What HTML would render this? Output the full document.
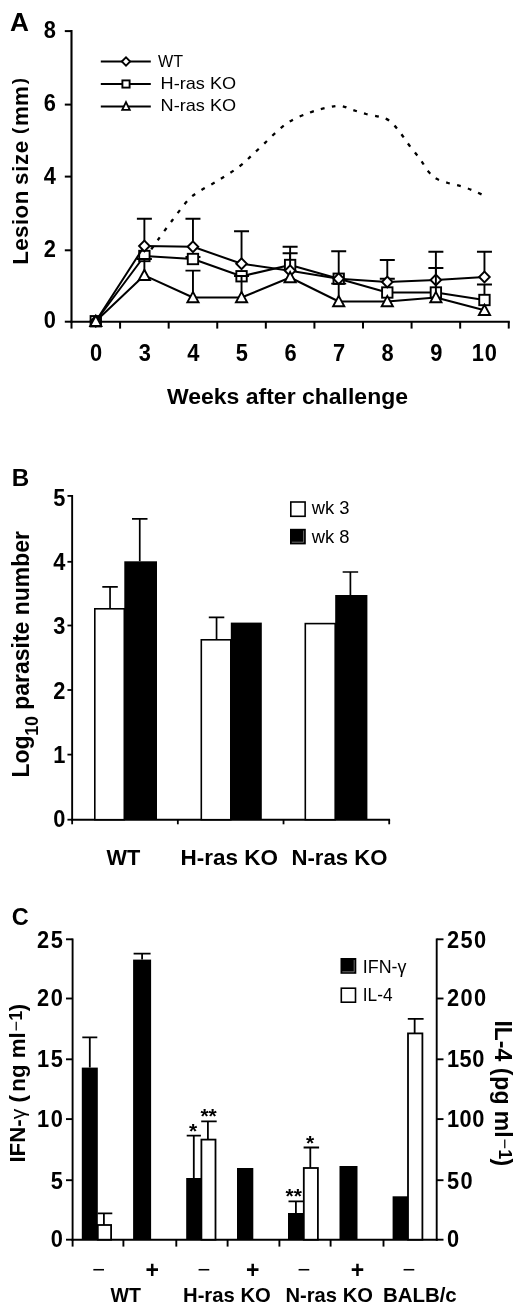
<!DOCTYPE html>
<html lang="en">
<head>
<meta charset="utf-8">
<title>Figure: lesion size, parasite number and cytokine production</title>
<style>
html,body{margin:0;padding:0;background:#fff;}
body{width:520px;height:1313px;overflow:hidden;}
svg{display:block;}
svg text{font-family:"Liberation Sans",sans-serif;fill:#000;stroke:none;}
</style>
</head>
<body>
<svg width="520" height="1313" viewBox="0 0 520 1313" stroke="#000" stroke-linecap="butt" shape-rendering="auto">
<rect x="0" y="0" width="520" height="1313" fill="#fff" stroke="none"/>
<g id="panelA">
<text transform="translate(10.0 31.0) scale(1.05 1)" font-size="25" font-weight="bold">A</text>
<line x1="71.5" y1="30.1" x2="71.5" y2="322.7" stroke-width="2.1"/>
<line x1="70.5" y1="321.7" x2="509.8" y2="321.7" stroke-width="2.1"/>
<line x1="64.8" y1="321.7" x2="71.5" y2="321.7" stroke-width="2.0"/>
<text transform="translate(56.0 328.1) scale(0.93 1)" font-size="23.5" font-weight="bold" text-anchor="end">0</text>
<line x1="64.8" y1="250.3" x2="71.5" y2="250.3" stroke-width="2.0"/>
<text transform="translate(56.0 256.9) scale(0.93 1)" font-size="23.5" font-weight="bold" text-anchor="end">2</text>
<line x1="64.8" y1="176.6" x2="71.5" y2="176.6" stroke-width="2.0"/>
<text transform="translate(56.0 183.7) scale(0.93 1)" font-size="23.5" font-weight="bold" text-anchor="end">4</text>
<line x1="64.8" y1="104.6" x2="71.5" y2="104.6" stroke-width="2.0"/>
<text transform="translate(56.0 111.4) scale(0.93 1)" font-size="23.5" font-weight="bold" text-anchor="end">6</text>
<line x1="64.8" y1="31.1" x2="71.5" y2="31.1" stroke-width="2.0"/>
<text transform="translate(56.0 38.0) scale(0.93 1)" font-size="23.5" font-weight="bold" text-anchor="end">8</text>
<line x1="71.5" y1="321.7" x2="71.5" y2="328.59999999999997" stroke-width="2.0"/>
<line x1="120.08" y1="321.7" x2="120.08" y2="328.59999999999997" stroke-width="2.0"/>
<line x1="168.67" y1="321.7" x2="168.67" y2="328.59999999999997" stroke-width="2.0"/>
<line x1="217.25" y1="321.7" x2="217.25" y2="328.59999999999997" stroke-width="2.0"/>
<line x1="265.83" y1="321.7" x2="265.83" y2="328.59999999999997" stroke-width="2.0"/>
<line x1="314.42" y1="321.7" x2="314.42" y2="328.59999999999997" stroke-width="2.0"/>
<line x1="363.0" y1="321.7" x2="363.0" y2="328.59999999999997" stroke-width="2.0"/>
<line x1="411.58" y1="321.7" x2="411.58" y2="328.59999999999997" stroke-width="2.0"/>
<line x1="460.17" y1="321.7" x2="460.17" y2="328.59999999999997" stroke-width="2.0"/>
<line x1="508.75" y1="321.7" x2="508.75" y2="328.59999999999997" stroke-width="2.0"/>
<text transform="translate(96.19 360.6) scale(0.93 1)" font-size="23.5" font-weight="bold" text-anchor="middle">0</text>
<text transform="translate(144.78 360.6) scale(0.93 1)" font-size="23.5" font-weight="bold" text-anchor="middle">3</text>
<text transform="translate(193.36 360.6) scale(0.93 1)" font-size="23.5" font-weight="bold" text-anchor="middle">4</text>
<text transform="translate(241.94 360.6) scale(0.93 1)" font-size="23.5" font-weight="bold" text-anchor="middle">5</text>
<text transform="translate(290.52 360.6) scale(0.93 1)" font-size="23.5" font-weight="bold" text-anchor="middle">6</text>
<text transform="translate(339.11 360.6) scale(0.93 1)" font-size="23.5" font-weight="bold" text-anchor="middle">7</text>
<text transform="translate(387.69 360.6) scale(0.93 1)" font-size="23.5" font-weight="bold" text-anchor="middle">8</text>
<text transform="translate(436.27 360.6) scale(0.93 1)" font-size="23.5" font-weight="bold" text-anchor="middle">9</text>
<text transform="translate(484.66 360.6) scale(0.93 1)" font-size="23.5" font-weight="bold" text-anchor="middle" letter-spacing="0.9">10</text>
<text transform="translate(27.8 265.0) rotate(-90)" font-size="22.3" font-weight="bold"><tspan x="0.2" letter-spacing="0.45">Lesion</tspan><tspan x="80.1" letter-spacing="0.65">size</tspan><tspan x="131.0" font-size="19" dy="-2.6" letter-spacing="0">(</tspan><tspan dy="2.6" font-size="1"> </tspan><tspan x="139.0" letter-spacing="0.1">mm</tspan><tspan x="180.7" font-size="19" dy="-2.6" letter-spacing="0">)</tspan><tspan dy="2.6" font-size="1"> </tspan></text>
<text x="167" y="404.4" font-size="22.5" font-weight="bold" textLength="241" lengthAdjust="spacingAndGlyphs">Weeks after challenge</text>
<line x1="100.8" y1="61.5" x2="150.8" y2="61.5" stroke-width="2"/>
<line x1="100.8" y1="84" x2="150.8" y2="84" stroke-width="2"/>
<line x1="100.8" y1="106.5" x2="150.8" y2="106.5" stroke-width="2"/>
<path d="M121.8 61.5L126 57.3L130.2 61.5L126 65.7Z" fill="#fff" stroke-width="1.8"/>
<rect x="122.4" y="80.4" width="7.2" height="7.2" fill="#fff" stroke-width="1.9"/>
<path d="M126 102.1L129.8 109.9H122.2Z" fill="#fff" stroke-width="1.8"/>
<text x="158" y="67.4" font-size="17" textLength="25" lengthAdjust="spacingAndGlyphs">WT</text>
<text x="160.6" y="89.3" font-size="17" textLength="75.5" lengthAdjust="spacingAndGlyphs">H-ras KO</text>
<text x="160.6" y="111.4" font-size="17" textLength="75.5" lengthAdjust="spacingAndGlyphs">N-ras KO</text>
<path d="M148.5 253.5C150.0 251.3 153.5 246.1 157.5 240.5C161.5 234.9 167.5 226.6 172.5 220C177.5 213.4 183.3 205.4 187.5 200.8C191.7 196.2 192.3 196.0 197.5 192.5C202.7 189.0 211.7 184.4 218.8 180C225.9 175.6 233.6 171.0 240 166C246.4 161.0 249.8 157.0 257.5 150C265.2 143.0 277.2 130.2 286 124C294.8 117.8 303.0 115.2 310 112.5C317.0 109.8 322.8 108.6 328 107.5C333.2 106.4 336.8 105.6 341 106C345.2 106.4 348.8 108.7 353 110C357.2 111.3 361.5 112.8 366 114C370.5 115.2 376.2 115.9 380 117C383.8 118.1 385.8 118.2 389 120.5C392.2 122.8 395.7 126.9 399 131C402.3 135.1 405.5 140.3 409 145C412.5 149.7 416.8 154.7 420 159C423.2 163.3 425.5 167.8 428 171C430.5 174.2 431.7 176.0 435 178C438.3 180.0 443.5 181.6 448 183C452.5 184.4 457.7 185.2 462 186.5C466.3 187.8 470.3 189.5 474 191C477.7 192.5 482.3 194.8 484 195.5" fill="none" stroke-width="2.3" stroke-dasharray="3.8 7.4" stroke-dashoffset="-5"/>
<path d="M95.79 321.25L144.38 256L192.96 259L241.54 276.25L290.12 265L338.71 278.75L387.29 292.5L435.88 292.5L484.46 300" fill="none" stroke-width="2" stroke-linejoin="round"/>
<path d="M192.96 259V257M185.46 257H200.46" stroke-width="1.9" fill="none"/>
<path d="M290.12 265V253.25M282.62 253.25H297.62" stroke-width="1.9" fill="none"/>
<path d="M387.29 292.5V278.75M379.79 278.75H394.79" stroke-width="1.9" fill="none"/>
<path d="M484.46 300V284.5M476.96 284.5H491.96" stroke-width="1.9" fill="none"/>
<rect x="90.59" y="316.05" width="10.4" height="10.4" fill="#fff" stroke-width="1.9"/>
<rect x="139.18" y="250.8" width="10.4" height="10.4" fill="#fff" stroke-width="1.9"/>
<rect x="187.76000000000002" y="253.8" width="10.4" height="10.4" fill="#fff" stroke-width="1.9"/>
<rect x="236.34" y="271.05" width="10.4" height="10.4" fill="#fff" stroke-width="1.9"/>
<rect x="284.92" y="259.8" width="10.4" height="10.4" fill="#fff" stroke-width="1.9"/>
<rect x="333.51" y="273.55" width="10.4" height="10.4" fill="#fff" stroke-width="1.9"/>
<rect x="382.09000000000003" y="287.3" width="10.4" height="10.4" fill="#fff" stroke-width="1.9"/>
<rect x="430.68" y="287.3" width="10.4" height="10.4" fill="#fff" stroke-width="1.9"/>
<rect x="479.26" y="294.8" width="10.4" height="10.4" fill="#fff" stroke-width="1.9"/>
<path d="M95.79 321.25L144.38 246L192.96 246.75L241.54 263.75L290.12 270.75L338.71 278.75L387.29 282L435.88 280L484.46 277" fill="none" stroke-width="2" stroke-linejoin="round"/>
<path d="M144.38 246V218.75M136.88 218.75H151.88" stroke-width="1.9" fill="none"/>
<path d="M192.96 246.75V218.75M185.46 218.75H200.46" stroke-width="1.9" fill="none"/>
<path d="M241.54 263.75V231.25M234.04 231.25H249.04" stroke-width="1.9" fill="none"/>
<path d="M290.12 270.75V246.75M282.62 246.75H297.62" stroke-width="1.9" fill="none"/>
<path d="M338.71 278.75V251.25M331.21 251.25H346.21" stroke-width="1.9" fill="none"/>
<path d="M387.29 282V260M379.79 260H394.79" stroke-width="1.9" fill="none"/>
<path d="M435.88 280V251.75M428.38 251.75H443.38" stroke-width="1.9" fill="none"/>
<path d="M484.46 277V251.75M476.96 251.75H491.96" stroke-width="1.9" fill="none"/>
<path d="M90.49000000000001 321.25L95.79 315.95L101.09 321.25L95.79 326.55Z" fill="#fff" stroke-width="1.9"/>
<path d="M139.07999999999998 246L144.38 240.7L149.68 246L144.38 251.3Z" fill="#fff" stroke-width="1.9"/>
<path d="M187.66 246.75L192.96 241.45L198.26000000000002 246.75L192.96 252.05Z" fill="#fff" stroke-width="1.9"/>
<path d="M236.23999999999998 263.75L241.54 258.45L246.84 263.75L241.54 269.05Z" fill="#fff" stroke-width="1.9"/>
<path d="M284.82 270.75L290.12 265.45L295.42 270.75L290.12 276.05Z" fill="#fff" stroke-width="1.9"/>
<path d="M333.40999999999997 278.75L338.71 273.45L344.01 278.75L338.71 284.05Z" fill="#fff" stroke-width="1.9"/>
<path d="M381.99 282L387.29 276.7L392.59000000000003 282L387.29 287.3Z" fill="#fff" stroke-width="1.9"/>
<path d="M430.58 280L435.88 274.7L441.18 280L435.88 285.3Z" fill="#fff" stroke-width="1.9"/>
<path d="M479.15999999999997 277L484.46 271.7L489.76 277L484.46 282.3Z" fill="#fff" stroke-width="1.9"/>
<path d="M95.79 321.25L144.38 275.3L192.96 297.5L241.54 297.5L290.12 277.5L338.71 301.5L387.29 301.5L435.88 297.5L484.46 310.3" fill="none" stroke-width="2" stroke-linejoin="round"/>
<path d="M144.38 275.3V259M136.88 259H151.88" stroke-width="1.9" fill="none"/>
<path d="M192.96 297.5V270.6M185.46 270.6H200.46" stroke-width="1.9" fill="none"/>
<path d="M241.54 297.5V276M234.04 276H249.04" stroke-width="1.9" fill="none"/>
<path d="M338.71 301.5V283.6M331.21 283.6H346.21" stroke-width="1.9" fill="none"/>
<path d="M435.88 297.5V268M428.38 268H443.38" stroke-width="1.9" fill="none"/>
<path d="M95.79 315.65L101.39 325.95H90.19000000000001Z" fill="#fff" stroke-width="1.9"/>
<path d="M144.38 269.7L149.98 280.0H138.78Z" fill="#fff" stroke-width="1.9"/>
<path d="M192.96 291.9L198.56 302.2H187.36Z" fill="#fff" stroke-width="1.9"/>
<path d="M241.54 291.9L247.14 302.2H235.94Z" fill="#fff" stroke-width="1.9"/>
<path d="M290.12 271.9L295.72 282.2H284.52Z" fill="#fff" stroke-width="1.9"/>
<path d="M338.71 295.9L344.31 306.2H333.10999999999996Z" fill="#fff" stroke-width="1.9"/>
<path d="M387.29 295.9L392.89000000000004 306.2H381.69Z" fill="#fff" stroke-width="1.9"/>
<path d="M435.88 291.9L441.48 302.2H430.28Z" fill="#fff" stroke-width="1.9"/>
<path d="M484.46 304.7L490.06 315.0H478.85999999999996Z" fill="#fff" stroke-width="1.9"/>
</g>
<g id="panelB">
<text transform="translate(11.8 486.0) scale(1.03 1)" font-size="23.5" font-weight="bold">B</text>
<line x1="72.15" y1="495.0" x2="72.15" y2="820.6" stroke-width="1.9"/>
<line x1="71.25" y1="819.7" x2="390.1" y2="819.7" stroke-width="1.9"/>
<line x1="67.45" y1="819.7" x2="72.15" y2="819.7" stroke-width="1.8"/>
<text transform="translate(65.3 827.2) scale(0.94 1)" font-size="23.2" font-weight="bold" text-anchor="end">0</text>
<line x1="67.45" y1="754.6" x2="72.15" y2="754.6" stroke-width="1.8"/>
<text transform="translate(65.3 762.92) scale(0.94 1)" font-size="23.2" font-weight="bold" text-anchor="end">1</text>
<line x1="67.45" y1="690.0" x2="72.15" y2="690.0" stroke-width="1.8"/>
<text transform="translate(65.3 698.64) scale(0.94 1)" font-size="23.2" font-weight="bold" text-anchor="end">2</text>
<line x1="67.45" y1="625.5" x2="72.15" y2="625.5" stroke-width="1.8"/>
<text transform="translate(65.3 634.36) scale(0.94 1)" font-size="23.2" font-weight="bold" text-anchor="end">3</text>
<line x1="67.45" y1="561.8" x2="72.15" y2="561.8" stroke-width="1.8"/>
<text transform="translate(65.3 570.08) scale(0.94 1)" font-size="23.2" font-weight="bold" text-anchor="end">4</text>
<line x1="67.45" y1="495.9" x2="72.15" y2="495.9" stroke-width="1.8"/>
<text transform="translate(65.3 505.8) scale(0.94 1)" font-size="23.2" font-weight="bold" text-anchor="end">5</text>
<line x1="72.15" y1="819.7" x2="72.15" y2="824.3000000000001" stroke-width="1.8"/>
<line x1="177.83" y1="819.7" x2="177.83" y2="824.3000000000001" stroke-width="1.8"/>
<line x1="283.52" y1="819.7" x2="283.52" y2="824.3000000000001" stroke-width="1.8"/>
<line x1="389.2" y1="819.7" x2="389.2" y2="824.3000000000001" stroke-width="1.8"/>
<path d="M110.05 608.8V586.8M102.3 586.8H117.8" stroke-width="1.7" fill="none"/>
<path d="M139.75 561.3V518.8M132.0 518.8H147.5" stroke-width="1.7" fill="none"/>
<rect x="94.8" y="608.8" width="29.5" height="210.9" fill="#fff" stroke-width="1.6"/>
<rect x="124.3" y="561.3" width="32.7" height="258.4" fill="#000" stroke="none"/>
<path d="M216.55 639.8V617.4M208.8 617.4H224.3" stroke-width="1.7" fill="none"/>
<rect x="201.3" y="639.8" width="29.5" height="179.9" fill="#fff" stroke-width="1.6"/>
<rect x="230.8" y="622.6" width="31.0" height="197.1" fill="#000" stroke="none"/>
<path d="M350.4 595.0V572.0M342.65 572.0H358.15" stroke-width="1.7" fill="none"/>
<rect x="305.3" y="623.6" width="29.9" height="196.1" fill="#fff" stroke-width="1.6"/>
<rect x="335.2" y="595.0" width="32.2" height="224.7" fill="#000" stroke="none"/>
<text x="106.4" y="865.4" font-size="22" font-weight="bold" textLength="33.8" lengthAdjust="spacingAndGlyphs">WT</text>
<text x="180.4" y="865.4" font-size="22" font-weight="bold" textLength="97.5" lengthAdjust="spacingAndGlyphs">H-ras KO</text>
<text x="291.4" y="865.4" font-size="22" font-weight="bold" textLength="96.0" lengthAdjust="spacingAndGlyphs">N-ras KO</text>
<rect x="290.8" y="502" width="14.3" height="14.3" fill="#fff" stroke-width="1.6"/>
<rect x="290" y="528.8" width="15.8" height="15.6" fill="#000" stroke="none"/>
<path d="M291.8 542.2H303.6V530.6" fill="none" stroke="#999" stroke-width="0.7"/>
<text x="311.8" y="513.8" font-size="17.5" textLength="37.8" lengthAdjust="spacingAndGlyphs">wk 3</text>
<text x="311.8" y="542.6" font-size="17.5" textLength="37.8" lengthAdjust="spacingAndGlyphs">wk 8</text>
<text transform="translate(28.6 777.5) rotate(-90) scale(0.957 1)" font-size="24" font-weight="bold">Log<tspan font-size="18.6" dy="9" dx="-0.4">10</tspan><tspan dy="-9"> parasite number</tspan></text>
</g>
<g id="panelC">
<text transform="translate(11.8 925.2) scale(1.0 1)" font-size="23.5" font-weight="bold">C</text>
<line x1="72.6" y1="938.4499999999999" x2="72.6" y2="1240.65" stroke-width="1.9"/>
<line x1="436.7" y1="938.4499999999999" x2="436.7" y2="1240.65" stroke-width="1.9"/>
<line x1="71.64999999999999" y1="1239.7" x2="437.65" y2="1239.7" stroke-width="1.9"/>
<line x1="66.0" y1="1239.7" x2="72.6" y2="1239.7" stroke-width="1.9"/>
<line x1="436.7" y1="1239.7" x2="443.5" y2="1239.7" stroke-width="1.9"/>
<text transform="translate(62.8 1246.8) scale(0.94 1)" font-size="23.2" font-weight="bold" text-anchor="end">0</text>
<text transform="translate(446.9 1246.8) scale(0.94 1)" font-size="23.2" font-weight="bold">0</text>
<line x1="66.0" y1="1180.2" x2="72.6" y2="1180.2" stroke-width="1.9"/>
<line x1="436.7" y1="1180.2" x2="443.5" y2="1180.2" stroke-width="1.9"/>
<text transform="translate(62.8 1189.0) scale(0.94 1)" font-size="23.2" font-weight="bold" text-anchor="end">5</text>
<text transform="translate(446.9 1189.0) scale(0.94 1)" font-size="23.2" font-weight="bold" letter-spacing="1.5">50</text>
<line x1="66.0" y1="1119.1" x2="72.6" y2="1119.1" stroke-width="1.9"/>
<line x1="436.7" y1="1119.1" x2="443.5" y2="1119.1" stroke-width="1.9"/>
<text transform="translate(64.3 1126.7) scale(0.94 1)" font-size="23.2" font-weight="bold" text-anchor="end" letter-spacing="1.6">10</text>
<text transform="translate(446.9 1126.7) scale(0.94 1)" font-size="23.2" font-weight="bold" letter-spacing="0.6">100</text>
<line x1="66.0" y1="1059.3" x2="72.6" y2="1059.3" stroke-width="1.9"/>
<line x1="436.7" y1="1059.3" x2="443.5" y2="1059.3" stroke-width="1.9"/>
<text transform="translate(64.3 1066.6) scale(0.94 1)" font-size="23.2" font-weight="bold" text-anchor="end" letter-spacing="1.6">15</text>
<text transform="translate(446.9 1066.6) scale(0.94 1)" font-size="23.2" font-weight="bold" letter-spacing="0.6">150</text>
<line x1="66.0" y1="998.5" x2="72.6" y2="998.5" stroke-width="1.9"/>
<line x1="436.7" y1="998.5" x2="443.5" y2="998.5" stroke-width="1.9"/>
<text transform="translate(64.3 1006.3) scale(0.94 1)" font-size="23.2" font-weight="bold" text-anchor="end" letter-spacing="1.6">20</text>
<text transform="translate(446.9 1006.3) scale(0.94 1)" font-size="23.2" font-weight="bold" letter-spacing="1.5">200</text>
<line x1="66.0" y1="939.3" x2="72.6" y2="939.3" stroke-width="1.9"/>
<line x1="436.7" y1="939.3" x2="443.5" y2="939.3" stroke-width="1.9"/>
<text transform="translate(64.3 947.5) scale(0.94 1)" font-size="23.2" font-weight="bold" text-anchor="end" letter-spacing="1.6">25</text>
<text transform="translate(446.9 947.5) scale(0.94 1)" font-size="23.2" font-weight="bold" letter-spacing="1.5">250</text>
<line x1="123.4" y1="1239.7" x2="123.4" y2="1246.6000000000001" stroke-width="1.9"/>
<line x1="176.3" y1="1239.7" x2="176.3" y2="1246.6000000000001" stroke-width="1.9"/>
<line x1="227.6" y1="1239.7" x2="227.6" y2="1246.6000000000001" stroke-width="1.9"/>
<line x1="279.4" y1="1239.7" x2="279.4" y2="1246.6000000000001" stroke-width="1.9"/>
<line x1="330.6" y1="1239.7" x2="330.6" y2="1246.6000000000001" stroke-width="1.9"/>
<line x1="383.5" y1="1239.7" x2="383.5" y2="1246.6000000000001" stroke-width="1.9"/>
<line x1="72.6" y1="1239.7" x2="72.6" y2="1246.6000000000001" stroke-width="1.9"/>
<path d="M89.8 1067.6V1037.4M82.3 1037.4H97.3" stroke-width="1.8" fill="none"/>
<rect x="81.8" y="1067.6" width="16.0" height="172.1" fill="#000" stroke="none"/>
<path d="M103.9 1225.0V1213.3M97.6 1213.3H112.3" stroke-width="1.8" fill="none"/>
<rect x="97.8" y="1225.0" width="13.3" height="14.7" fill="#fff" stroke-width="1.8"/>
<path d="M142.1 959.6V953.6M133.6 953.6H150.6" stroke-width="1.8" fill="none"/>
<rect x="133.1" y="959.6" width="18.0" height="280.1" fill="#000" stroke="none"/>
<path d="M193.8 1178.0V1135.6M186.70000000000002 1135.6H200.9" stroke-width="1.8" fill="none"/>
<rect x="186.2" y="1178.0" width="15.2" height="61.7" fill="#000" stroke="none"/>
<path d="M207.9 1139.6V1121.3M201.20000000000002 1121.3H216.70000000000002" stroke-width="1.8" fill="none"/>
<rect x="201.4" y="1139.6" width="14.1" height="100.1" fill="#fff" stroke-width="1.8"/>
<rect x="237.0" y="1168.0" width="16.3" height="71.7" fill="#000" stroke="none"/>
<path d="M295.9 1213.0V1201.3M288.5 1201.3H303.29999999999995" stroke-width="1.8" fill="none"/>
<rect x="288.0" y="1213.0" width="15.8" height="26.7" fill="#000" stroke="none"/>
<path d="M310.3 1168.0V1147.5M303.6 1147.5H319.1" stroke-width="1.8" fill="none"/>
<rect x="303.8" y="1168.0" width="14.1" height="71.7" fill="#fff" stroke-width="1.8"/>
<rect x="339.5" y="1166.0" width="18.0" height="73.7" fill="#000" stroke="none"/>
<rect x="392.6" y="1196.3" width="15.4" height="43.4" fill="#000" stroke="none"/>
<path d="M414.65 1033.4V1018.8M407.8 1018.8H423.6" stroke-width="1.8" fill="none"/>
<rect x="408.0" y="1033.4" width="14.4" height="206.3" fill="#fff" stroke-width="1.8"/>
<text x="193.0" y="1137.6" font-size="21" font-weight="bold" text-anchor="middle">*</text>
<text x="208.6" y="1122.6" font-size="21" font-weight="bold" text-anchor="middle">**</text>
<text x="293.8" y="1202.6" font-size="21" font-weight="bold" text-anchor="middle">**</text>
<text x="310.0" y="1149.8" font-size="21" font-weight="bold" text-anchor="middle">*</text>
<text x="98.8" y="1276.7" font-size="22" text-anchor="middle">−</text>
<text x="204.0" y="1276.7" font-size="22" text-anchor="middle">−</text>
<text x="304.0" y="1276.7" font-size="22" text-anchor="middle">−</text>
<text x="408.9" y="1276.7" font-size="22" text-anchor="middle">−</text>
<text x="152.2" y="1277.6" font-size="23" font-weight="bold" text-anchor="middle">+</text>
<text x="252.8" y="1277.6" font-size="23" font-weight="bold" text-anchor="middle">+</text>
<text x="357.5" y="1277.6" font-size="23" font-weight="bold" text-anchor="middle">+</text>
<text x="110.6" y="1301.8" font-size="20.5" font-weight="bold" textLength="30.4" lengthAdjust="spacingAndGlyphs">WT</text>
<text x="183.0" y="1301.8" font-size="20.5" font-weight="bold" textLength="87.8" lengthAdjust="spacingAndGlyphs">H-ras KO</text>
<text x="285.5" y="1301.8" font-size="20.5" font-weight="bold" textLength="87.4" lengthAdjust="spacingAndGlyphs">N-ras KO</text>
<text x="382.9" y="1301.8" font-size="20.5" font-weight="bold" textLength="73.8" lengthAdjust="spacingAndGlyphs">BALB/c</text>
<rect x="340.5" y="958" width="15.8" height="15.8" fill="#000" stroke="none"/>
<path d="M342.3 971.8H354.2V960" fill="none" stroke="#999" stroke-width="0.7"/>
<rect x="341.3" y="988.2" width="14.2" height="14.0" fill="#fff" stroke-width="1.6"/>
<text x="362.8" y="972.6" font-size="18" textLength="43.6" lengthAdjust="spacingAndGlyphs">IFN-γ</text>
<text x="362.8" y="1001.4" font-size="18" textLength="29.8" lengthAdjust="spacingAndGlyphs">IL-4</text>
<text transform="translate(25.4 1162.6) rotate(-90)" font-size="22.3" font-weight="bold">IFN-<tspan font-weight="normal" font-size="21">γ</tspan> (<tspan dx="3.4">ng ml</tspan><tspan font-weight="normal" font-size="18" dy="-3.5" dx="0.8">−</tspan><tspan font-size="18" dx="0.2">1</tspan><tspan dy="3.5" dx="-0.6">)</tspan></text>
<text transform="translate(495.4 1020.4) rotate(90)" font-size="23" font-weight="bold">IL-4 (<tspan dx="1">pg ml</tspan><tspan font-weight="normal" font-size="18" dy="-3.5" dx="0.8">−</tspan><tspan font-size="18" dx="0.2">1</tspan><tspan dy="3.5" dx="-0.6">)</tspan></text>
</g>
</svg>
</body>
</html>
